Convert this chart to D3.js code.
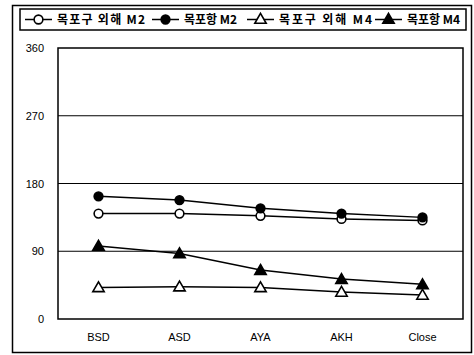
<!DOCTYPE html>
<html>
<head>
<meta charset="utf-8">
<script src="https://cdn.jsdelivr.net/npm/d3@7"></script>
<style>
  body { margin: 0; background: #fff; }
  svg { display: block; }
</style>
</head>
<body>
<div id="chart"></div>
<script>
const categories = ["BSD", "ASD", "AYA", "AKH", "Close"];
const seriesNames = ["목포구 외해 M2", "목포항 M2", "목포구 외해 M4", "목포항 M4"];
const outerM2 = [140, 140, 137, 133, 131];
const harborM2 = [163, 158, 147, 140, 135];
const outerM4 = [42, 43, 42, 36, 32];
const harborM4 = [97, 87, 65, 53, 46];
const yTicks = [0, 90, 180, 270, 360];

const W = 474, H = 355;
const plot = { left: 58, top: 48, right: 463, bottom: 319 };

const svg = d3.select("#chart").append("svg")
  .attr("width", W).attr("height", H);

// cadre extérieur
svg.append("rect")
  .attr("x", 12.5).attr("y", 5.5)
  .attr("width", 459).attr("height", 347)
  .attr("fill", "none").attr("stroke", "#000").attr("stroke-width", 1.5);

const x = d3.scaleBand().domain(categories).range([plot.left, plot.right]).padding(0);
const y = d3.scaleLinear().domain([0, 360]).range([plot.bottom, plot.top]);

// grille
svg.append("g")
  .selectAll("line")
  .data(yTicks.filter(t => t > 0 && t < 360))
  .join("line")
  .attr("x1", plot.left).attr("x2", plot.right)
  .attr("y1", d => y(d)).attr("y2", d => y(d))
  .attr("stroke", "#000").attr("stroke-width", 1.2);

svg.append("rect")
  .attr("x", plot.left).attr("y", plot.top)
  .attr("width", plot.right - plot.left).attr("height", plot.bottom - plot.top)
  .attr("fill", "none").attr("stroke", "#000").attr("stroke-width", 1.5);

// axe Y
const yAxis = svg.append("g")
  .attr("transform", `translate(${plot.left - 14},0)`)
  .call(d3.axisLeft(y).tickValues(yTicks).tickSize(0).tickPadding(0));
yAxis.select(".domain").remove();
yAxis.selectAll("text")
  .attr("font-family", "'Liberation Sans', Arial, sans-serif")
  .attr("font-size", 11).attr("fill", "#000");

// axe X
const xAxis = svg.append("g")
  .attr("transform", `translate(0,${plot.bottom + 14})`)
  .call(d3.axisBottom(x).tickSize(0).tickPadding(0));
xAxis.select(".domain").remove();
xAxis.selectAll("text")
  .attr("font-family", "'Liberation Sans', Arial, sans-serif")
  .attr("font-size", 11).attr("fill", "#000");

const series = [
  { name: seriesNames[0], values: outerM2, shape: d3.symbolCircle, filled: false },
  { name: seriesNames[1], values: harborM2, shape: d3.symbolCircle, filled: true },
  { name: seriesNames[2], values: outerM4, shape: d3.symbolTriangle, filled: false },
  { name: seriesNames[3], values: harborM4, shape: d3.symbolTriangle, filled: true }
];

const cx = c => x(c) + x.bandwidth() / 2;
const line = d3.line().x((d, i) => cx(categories[i])).y(d => y(d));

function symbolPath(s) {
  const size = s.shape === d3.symbolCircle ? 60 : 56;
  return d3.symbol().type(s.shape).size(size)();
}

series.forEach(s => {
  svg.append("path")
    .datum(s.values)
    .attr("d", line)
    .attr("fill", "none").attr("stroke", "#000").attr("stroke-width", 1.5);
});

series.forEach(s => {
  const dy = s.shape === d3.symbolTriangle ? 1 : 0;
  svg.append("g")
    .selectAll("path")
    .data(s.values)
    .join("path")
    .attr("transform", (d, i) => `translate(${cx(categories[i])},${y(d) + dy})`)
    .attr("d", symbolPath(s))
    .attr("fill", s.filled ? "#000" : "#fff")
    .attr("stroke", "#000").attr("stroke-width", 1.6);
});

// légende
const legend = svg.append("g");
legend.append("rect")
  .attr("x", 20).attr("y", 9)
  .attr("width", 446).attr("height", 21)
  .attr("fill", "#fff").attr("stroke", "#000").attr("stroke-width", 1.5);

const legendX = [25, 152, 247, 375];
const legendTextW = [88, 53, 93, 51];
series.forEach((s, i) => {
  const g = legend.append("g").attr("transform", `translate(${legendX[i]},19.5)`);
  g.append("line").attr("x1", 0).attr("x2", 27).attr("y1", 0).attr("y2", 0)
    .attr("stroke", "#000").attr("stroke-width", 1.5);
  g.append("path")
    .attr("transform", `translate(13.5,${s.shape === d3.symbolTriangle ? 0.5 : 0})`)
    .attr("d", symbolPath(s))
    .attr("fill", s.filled ? "#000" : "#fff")
    .attr("stroke", "#000").attr("stroke-width", 1.6);
  const t = g.append("text")
    .attr("x", 32).attr("y", 4.5)
    .attr("font-family", "'Noto Sans CJK KR', sans-serif")
    .attr("font-size", 12).attr("font-weight", "bold")
    .attr("fill", "#000")
    .text(s.name);
  // étirer seulement si le texte est plus court que la cible
  if (t.node().getComputedTextLength() < legendTextW[i]) {
    t.attr("textLength", legendTextW[i]).attr("lengthAdjust", "spacing");
  }
});
</script>
</body>
</html>
